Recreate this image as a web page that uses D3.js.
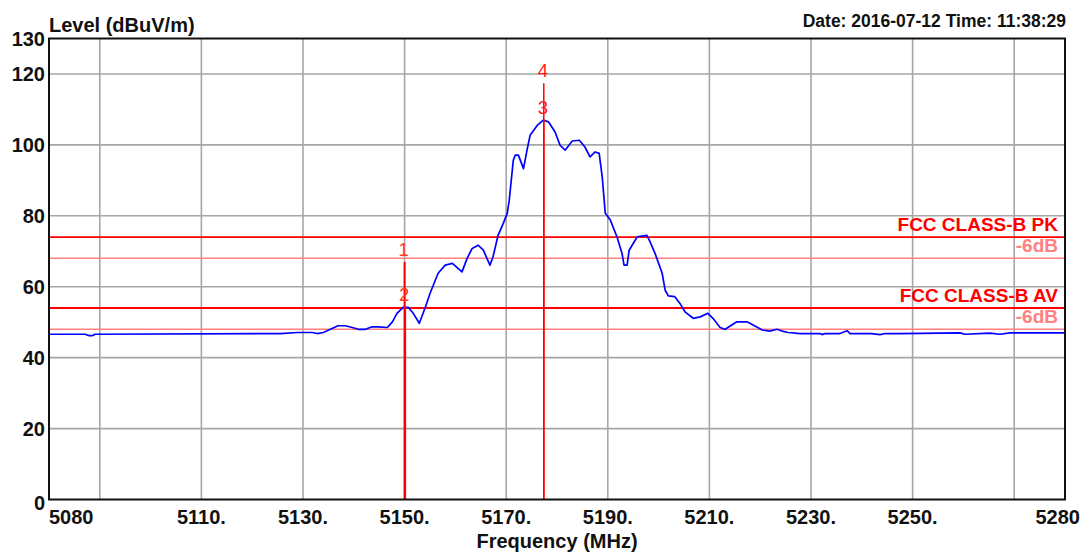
<!DOCTYPE html>
<html>
<head>
<meta charset="utf-8">
<script src="https://cdn.jsdelivr.net/npm/d3@7"></script>
<style>
  html, body { margin: 0; padding: 0; background: #ffffff; }
  svg { display: block; }
  text { font-family: "Liberation Sans", Arial, sans-serif; }
</style>
</head>
<body>
<svg id="chart" width="1090" height="552"></svg>
<script>
// ---------------- data ----------------
const freq = [
  5080.0, 5087.1, 5087.9, 5088.5, 5089.1, 5125.5, 5128.9, 5131.8, 5132.8, 5134.0,
  5135.4, 5136.9, 5138.3, 5139.7, 5140.9, 5142.3, 5143.6, 5144.8, 5146.6, 5147.6,
  5148.5, 5149.7, 5150.7, 5151.7, 5152.9, 5154.1, 5155.0, 5156.6, 5158.0, 5159.4,
  5161.3, 5162.3, 5163.3, 5164.5, 5165.5, 5166.8, 5167.4, 5168.4, 5169.4, 5170.2,
  5170.6, 5171.4, 5171.8, 5172.4, 5173.4, 5174.1, 5174.7, 5176.1, 5177.3, 5178.3,
  5179.6, 5180.6, 5181.6, 5183.0, 5184.4, 5185.5, 5186.5, 5187.5, 5188.3, 5188.9,
  5189.5, 5190.5, 5191.8, 5192.8, 5193.2, 5193.8, 5194.2, 5195.8, 5197.7, 5198.3,
  5199.3, 5199.9, 5200.7, 5201.3, 5201.9, 5203.2, 5204.2, 5205.2, 5206.8, 5208.2,
  5209.7, 5210.7, 5212.1, 5213.1, 5214.1, 5215.4, 5217.4, 5218.6, 5220.4, 5221.9,
  5223.3, 5224.3, 5225.5, 5227.9, 5231.8, 5232.2, 5232.8, 5235.7, 5237.1, 5237.7,
  5241.9, 5243.6, 5244.6, 5247.5, 5259.3, 5260.3, 5265.2, 5267.2, 5269.2, 5280.0
];
const level = [
  46.6, 46.6, 46.2, 46.2, 46.6, 46.8, 47.1, 47.1, 46.8, 47.1,
  48.0, 49.0, 49.0, 48.5, 48.0, 48.0, 48.7, 48.7, 48.5, 50.1,
  52.5, 54.2, 54.2, 52.5, 49.7, 54.3, 58.1, 63.8, 66.1, 66.6,
  64.2, 68.0, 70.8, 71.7, 70.3, 66.1, 68.4, 74.5, 77.8, 80.7,
  84.4, 95.7, 97.1, 97.1, 93.3, 98.5, 102.7, 105.5, 107.0, 106.5,
  103.7, 99.9, 98.5, 101.1, 101.3, 99.4, 96.6, 98.0, 97.6, 91.0,
  80.7, 78.8, 74.1, 69.4, 66.1, 66.1, 70.3, 74.1, 74.5, 72.7,
  69.4, 67.0, 63.8, 59.0, 57.4, 57.2, 55.3, 52.9, 51.1, 51.5,
  52.5, 51.1, 48.5, 48.0, 48.9, 50.1, 50.1, 49.2, 47.8, 47.5,
  48.0, 47.5, 47.1, 46.8, 46.8, 46.5, 46.8, 46.8, 47.6, 46.8,
  46.8, 46.5, 46.8, 46.8, 47.0, 46.6, 46.9, 46.6, 47.0, 47.0
];

const yTickValues = [0, 20, 40, 60, 80, 100, 120, 130];
const yGridValues = [20, 40, 60, 80, 100, 120];
const xGridValues = [5090, 5110, 5130, 5150, 5170, 5190, 5210, 5230, 5250, 5270];
const xLabelValues = [5080, 5110, 5130, 5150, 5170, 5190, 5210, 5230, 5250, 5280];
const xLabelTexts = ["5080", "5110.", "5130.", "5150.", "5170.", "5190.", "5210.", "5230.", "5250.", "5280"];

const limitNames = ["FCC CLASS-B PK", "-6dB", "FCC CLASS-B AV", "-6dB"];
const limitLevels = [74, 68, 54, 48];
const limitKinds = ["limit", "margin", "limit", "margin"];

const markerIds = ["1", "2", "3", "4"];
const markerFreq = [5150.0, 5150.1, 5177.4, 5177.4];
const markerLevel = [67.0, 54.2, 107.0, 117.4];

const yTitle = "Level (dBuV/m)";
const xTitle = "Frequency (MHz)";
const stamp = "Date: 2016-07-12  Time: 11:38:29";

// ---------------- layout ----------------
const svg = d3.select("#chart");
const L = 49, R = 1065, T = 38.5, B = 499.5;

const x = d3.scaleLinear().domain([5080, 5280]).range([L, R]);
const y = d3.scaleLinear().domain([0, 130]).range([B, T]);

const grid = svg.append("g");
grid.selectAll("line.vg").data(xGridValues).enter().append("line")
  .attr("x1", d => x(d)).attr("x2", d => x(d))
  .attr("y1", T).attr("y2", B)
  .attr("stroke", "#a6a6a6").attr("stroke-width", 1.6);
grid.selectAll("line.hg").data(yGridValues).enter().append("line")
  .attr("x1", L).attr("x2", R)
  .attr("y1", d => y(d)).attr("y2", d => y(d))
  .attr("stroke", "#a6a6a6").attr("stroke-width", 1.6);

// limit lines
const limG = svg.append("g");
limitLevels.forEach((v, i) => {
  const col = limitKinds[i] === "limit" ? "#ff0000" : "#ff8080";
  limG.append("line")
    .attr("x1", L).attr("x2", R)
    .attr("y1", y(v)).attr("y2", y(v))
    .attr("stroke", col).attr("stroke-width", limitKinds[i] === "limit" ? 1.8 : 1.5);
  limG.append("text")
    .attr("x", 1058).attr("y", y(v) - 6.5)
    .attr("text-anchor", "end")
    .attr("font-size", 19).attr("font-weight", "bold")
    .attr("fill", col)
    .text(limitNames[i]);
});

// trace
const pts = freq.map((f, i) => [f, level[i]]);
svg.append("path")
  .datum(pts)
  .attr("fill", "none")
  .attr("stroke", "#0000ff")
  .attr("stroke-width", 1.7)
  .attr("stroke-linejoin", "round")
  .attr("d", d3.line().x(d => x(d[0])).y(d => y(d[1])));

// markers
const mG = svg.append("g");
markerIds.forEach((id, i) => {
  mG.append("line")
    .attr("x1", x(markerFreq[i])).attr("x2", x(markerFreq[i]))
    .attr("y1", y(markerLevel[i])).attr("y2", B)
    .attr("stroke", "#ff0000").attr("stroke-width", i < 2 ? 2 : 1.5);
});
markerIds.forEach((id, i) => {
  mG.append("text")
    .attr("x", x(markerFreq[i]) - 1).attr("y", y(markerLevel[i]) - 6)
    .attr("text-anchor", "middle")
    .attr("font-size", 18.5)
    .attr("fill", i < 2 ? "#ff3b1f" : "#ff1a1a")
    .text(id);
});

// frame
svg.append("rect")
  .attr("x", L).attr("y", T).attr("width", R - L).attr("height", B - T)
  .attr("fill", "none").attr("stroke", "#111").attr("stroke-width", 2);

// y tick labels
svg.selectAll("text.yl").data(yTickValues).enter().append("text")
  .attr("x", 45)
  .attr("y", d => y(d) + (d === 0 ? 10 : 7))
  .attr("text-anchor", "end")
  .attr("font-size", 20).attr("font-weight", "bold")
  .attr("fill", "#111")
  .text(d => d);

// x tick labels
svg.selectAll("text.xl").data(xLabelValues).enter().append("text")
  .attr("x", (d, i) => i === xLabelValues.length - 1 ? x(d) + 15 : x(d))
  .attr("y", 524)
  .attr("text-anchor", (d, i) => i === 0 ? "start" : (i === xLabelValues.length - 1 ? "end" : "middle"))
  .attr("font-size", 20).attr("font-weight", "bold")
  .attr("fill", "#111")
  .text((d, i) => xLabelTexts[i]);

// titles
svg.append("text")
  .attr("x", 49).attr("y", 32)
  .attr("font-size", 20).attr("font-weight", "bold").attr("fill", "#111")
  .text(yTitle);
svg.append("text")
  .attr("x", (L + R) / 2).attr("y", 548)
  .attr("text-anchor", "middle")
  .attr("font-size", 20).attr("font-weight", "bold").attr("fill", "#111")
  .text(xTitle);
svg.append("text")
  .attr("x", 1066).attr("y", 27)
  .attr("text-anchor", "end")
  .attr("font-size", 17.5).attr("font-weight", "bold").attr("fill", "#111")
  .text(stamp);
</script>
</body>
</html>
